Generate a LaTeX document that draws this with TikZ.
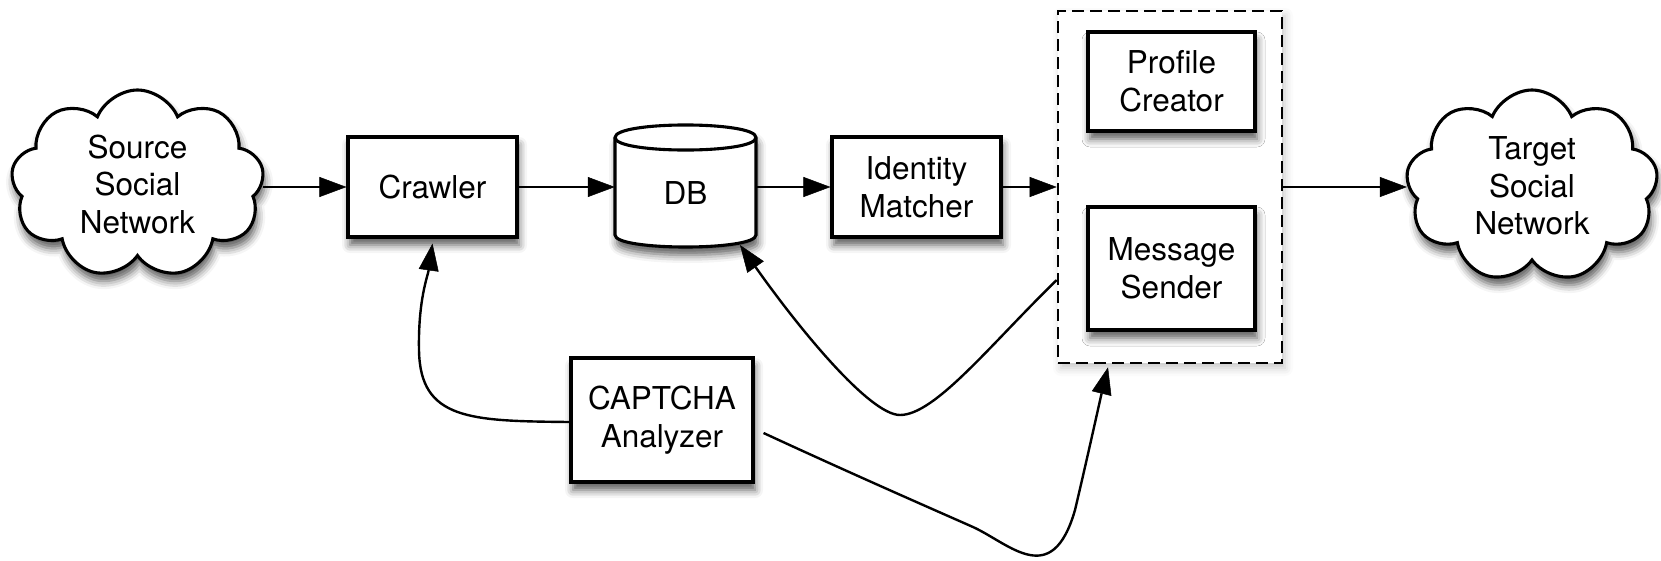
\documentclass[tikz,border=0pt]{standalone}
\usepackage{fontspec}
\setmainfont{TeX Gyre Heros}
\usetikzlibrary{arrows.meta,shapes.symbols,shadows.blur,calc}

\begin{document}
\begin{tikzpicture}[x=1pt,y=-1pt,
  font=\fontsize{31.5pt}{37.5pt}\selectfont,
  softshadow/.style={blur shadow={shadow xshift=2pt,shadow yshift=-8pt,shadow blur radius=8pt,shadow opacity=65}},
  faintshadow/.style={blur shadow={shadow xshift=3pt,shadow yshift=-5pt,shadow blur radius=8pt,shadow opacity=22}},
  box/.style={draw,line width=3.1pt,fill=white,align=center,inner sep=0pt,softshadow},
  net/.style={cloud,cloud puffs=9,cloud puff arc=135,cloud ignores aspect,draw,
    line width=3.1pt,fill=white,align=center,inner sep=0pt,softshadow},
  groupbox/.style={draw,line width=2.6pt,dash pattern=on 12pt off 6pt,fill=white,faintshadow},
  link/.style={draw=black,opacity=1,line width=2.4pt,
    -{Triangle[length=27pt,width=20pt,fill=black,line width=0.5pt]}},
  cylline/.style={line width=3.1pt},
  ]

\path[use as bounding box] (0,0) rectangle (1661,560);

% social networks
\node[net,minimum width=253pt,minimum height=188pt] (src) at (137.5,184) {Source\\Social\\Network};
\node[net,minimum width=252pt,minimum height=192pt] (tgt) at (1532,186) {Target\\Social\\Network};

% processing steps
\node[box,minimum width=169pt,minimum height=100pt] (crawler) at (432.5,187) {Crawler};
\node[box,minimum width=169pt,minimum height=100pt] (ident) at (916.5,187) {Identity\\Matcher};
\node[box,minimum width=182pt,minimum height=124pt] (captcha) at (662,420) {CAPTCHA\\Analyzer};

% group of profile creator and message sender
\node[groupbox,minimum width=224pt,minimum height=352pt] (group) at (1170,187) {};
\node[box,minimum width=167pt,minimum height=99pt] (profile) at (1171.5,81.5) {Profile\\Creator};
\node[box,minimum width=167pt,minimum height=123pt] (sender) at (1171.5,268.5) {Message\\Sender};

% database cylinder
\node[minimum width=141pt,minimum height=122pt,inner sep=0pt] (db) at (685.5,186) {};
\path[draw,cylline,fill=white,softshadow]
  (615,137.5) -- (615,235) .. controls (615,251) and (756,251) .. (756,235)
  -- (756,137.5) .. controls (756,120.8) and (615,120.8) .. (615,137.5) -- cycle;
\draw[cylline] (615,137.5) .. controls (615,154.2) and (756,154.2) .. (756,137.5);
\node (dbtext) at ($(db)+(0,7)$) {DB};

\begin{scope}[opacity=1]
% main flow
\draw[link] (src.east |- crawler.west) -- (crawler.west);
\draw[link] (crawler.east) -- (db.west |- crawler.east);
\draw[link] (db.east |- ident.west) -- (ident.west);
\draw[link] (ident.east) -- (group.west);
\draw[link] (group.east) -- (group.east -| tgt.west);

% feedback connectors
\draw[link] ($(captcha.west)+(0,2)$) .. controls (470,421) and (420,420) .. (419,350)
  .. controls (418,300) and (428,275) .. ($(crawler.south)+(0,5)$);
\draw[link] ($(group.west)+(0,93)$) .. controls (990,345) and (935,415) .. (900,415)
  .. controls (870,415) and (800,330) .. ($(db)+(54.5,59)$);
\draw[link] ($(captcha.east)+(9,13)$) .. controls (850,473) and (930,508) .. (973,527)
  .. controls (1010,544) and (1052,590) .. (1075,510)
  .. controls (1088,455) and (1100,400) .. ($(group.south)+(-62,3)$);
\end{scope}

\end{tikzpicture}
\end{document}
